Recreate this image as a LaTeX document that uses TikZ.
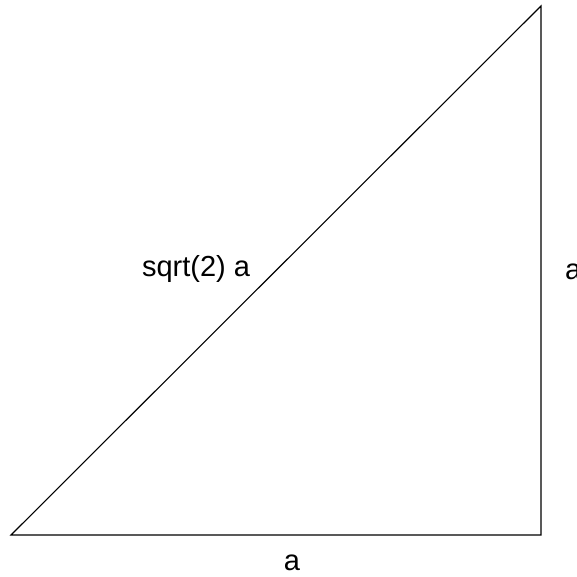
\documentclass[tikz,border=0pt]{standalone}
\usepackage{fontspec}
\setmainfont{Liberation Sans}
\begin{document}
\begin{tikzpicture}[x=1pt,y=1pt,
  lbl/.style={inner sep=0pt,font=\fontsize{29}{34}\selectfont},
  edge/.style={line width=1.1pt}]
\useasboundingbox (0,0) rectangle (577,576);
\coordinate (A) at (11,41);
\coordinate (B) at (541,41);
\coordinate (C) at (541,570);
\draw[edge,line join=miter] (A) -- (B) -- (C) -- cycle;
\node[lbl,anchor=base] (hyp) at (196,299) {sqrt(2) a};
\node[lbl,anchor=base west] (side) at (565,297) {a};
\node[lbl,anchor=base] (base) at (292,6) {a};
\end{tikzpicture}
\end{document}
